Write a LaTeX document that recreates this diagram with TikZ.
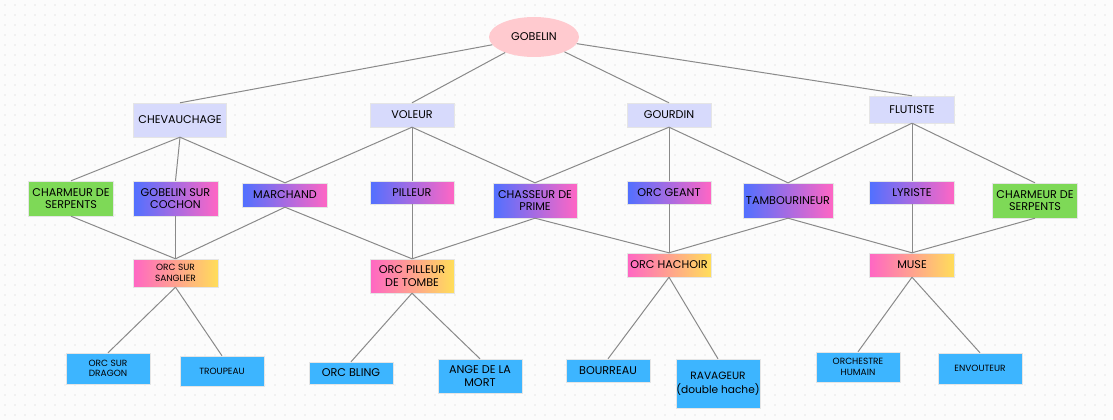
\documentclass[tikz,border=0pt]{standalone}
\usepackage{fontspec}
\setmainfont{Poppins}
\usetikzlibrary{shapes.geometric}
\definecolor{bgc}{HTML}{FCFCFC}
\definecolor{dotc}{HTML}{E4E4E4}
\definecolor{lav}{HTML}{D7DAFC}
\definecolor{grn}{HTML}{7ED957}
\definecolor{gblue}{HTML}{5170FF}
\definecolor{gpink}{HTML}{FF66C4}
\definecolor{gyel}{HTML}{FFDE59}
\definecolor{leafc}{HTML}{3DB5FF}
\definecolor{gobc}{HTML}{FFCACF}
\definecolor{edgec}{HTML}{8A8A8A}
\tikzset{
  box/.style={rectangle, inner sep=0pt, align=center, text=black,
    font=\fontsize{11.2}{12.6}\selectfont, draw=white!80!gray, line width=0.4pt},
  lv1/.style={box, fill=lav},
  grn/.style={box, fill=grn},
  grad/.style={box, left color=gblue, right color=gpink},
  grad2/.style={box, left color=gpink, right color=gyel},
  leaf/.style={box, fill=leafc},
  small/.style={font=\fontsize{9}{10.5}\selectfont},
  sz/.style 2 args={minimum width=#1pt, minimum height=#2pt},
  conn/.style={draw=edgec, line width=1pt}
}
\begin{document}
\begin{tikzpicture}[x=1pt,y=-1pt]
\useasboundingbox (0,0) rectangle (1113,420);
\fill[bgc] (0,0) rectangle (1113,420);
\fill[dotc] foreach \x in {5,15,...,1110} { foreach \y in {5,15,...,420} { (\x-0.6,\y-0.6) rectangle ++(1.2,1.2) } };

\node[ellipse, fill=gobc, minimum width=90pt, minimum height=40pt, inner sep=0pt,
  font=\fontsize{11.2}{12.6}\selectfont] (G) at (534,37) {GOBELIN};

\node[lv1, sz={93}{34}] (ch) at (180,120) {CHEVAUCHAGE};
\node[lv1, sz={84}{24}] (vo) at (412,115) {VOLEUR};
\node[lv1, sz={84}{24}] (go) at (669,115) {GOURDIN};
\node[lv1, sz={85}{27}] (fl) at (912,109.5) {FLUTISTE};

\node[grn, sz={85}{35}] (cs1) at (71,198.5) {CHARMEUR DE\\SERPENTS};
\node[grad, sz={85}{35}] (gc) at (175.5,198.5) {GOBELIN SUR\\COCHON};
\node[grad, sz={85}{24}] (ma) at (285,195) {MARCHAND};
\node[grad, sz={84}{23}] (pi) at (412,192.5) {PILLEUR};
\node[grad, sz={84}{35}] (cp) at (535,200.5) {CHASSEUR DE\\PRIME};
\node[grad, sz={84}{23}] (og) at (669,192.5) {ORC GEANT};
\node[grad, sz={90}{35}] (ta) at (788,200.5) {TAMBOURINEUR};
\node[grad, sz={85}{23}] (ly) at (912,192.5) {LYRISTE};
\node[grn, sz={85}{35}] (cs2) at (1035,200.5) {CHARMEUR DE\\SERPENTS};

\node[grad2, small, sz={85}{28}] (os) at (175.5,273) {ORC SUR\\SANGLIER};
\node[grad2, sz={84}{34}] (op) at (412,276) {ORC PILLEUR\\DE TOMBE};
\node[grad2, sz={84}{24}] (oh) at (669,265) {ORC HACHOIR};
\node[grad2, sz={85}{24}] (mu) at (912,265) {MUSE};

\node[leaf, small, sz={84}{31}] (od) at (108,368.5) {ORC SUR\\DRAGON};
\node[leaf, small, sz={84}{30}] (tr) at (222,371) {TROUPEAU};
\node[leaf, sz={84}{22}] (ob) at (351,373) {ORC BLING};
\node[leaf, sz={84}{34}] (am) at (480,376) {ANGE DE LA\\MORT};
\node[leaf, sz={84}{23}] (bo) at (608,370.5) {BOURREAU};
\node[leaf, sz={84}{49}, font=\fontsize{10.6}{14}\selectfont] (ra) at (718,383.5) {RAVAGEUR\\(double hache)};
\node[leaf, small, sz={84}{30}] (oc) at (858,367) {ORCHESTRE\\HUMAIN};
\node[leaf, small, sz={84}{31}] (en) at (980,368.5) {ENVOUTEUR};

\foreach \a/\b in {G/ch,G/vo,G/go,G/fl}
  \draw[conn] (\a) -- (\b.north);
\foreach \a/\b in {ch/cs1,ch/gc,ch/ma,vo/ma,vo/pi,vo/cp,go/cp,go/og,go/ta,fl/ta,fl/ly,fl/cs2,
  cs1/os,gc/os,ma/os,ma/op,pi/op,cp/op,cp/oh,og/oh,ta/oh,ta/mu,ly/mu,cs2/mu,
  os/od,os/tr,op/ob,op/am,oh/bo,oh/ra,mu/oc,mu/en}
  \draw[conn] (\a.south) -- (\b.north);
\end{tikzpicture}
\end{document}
